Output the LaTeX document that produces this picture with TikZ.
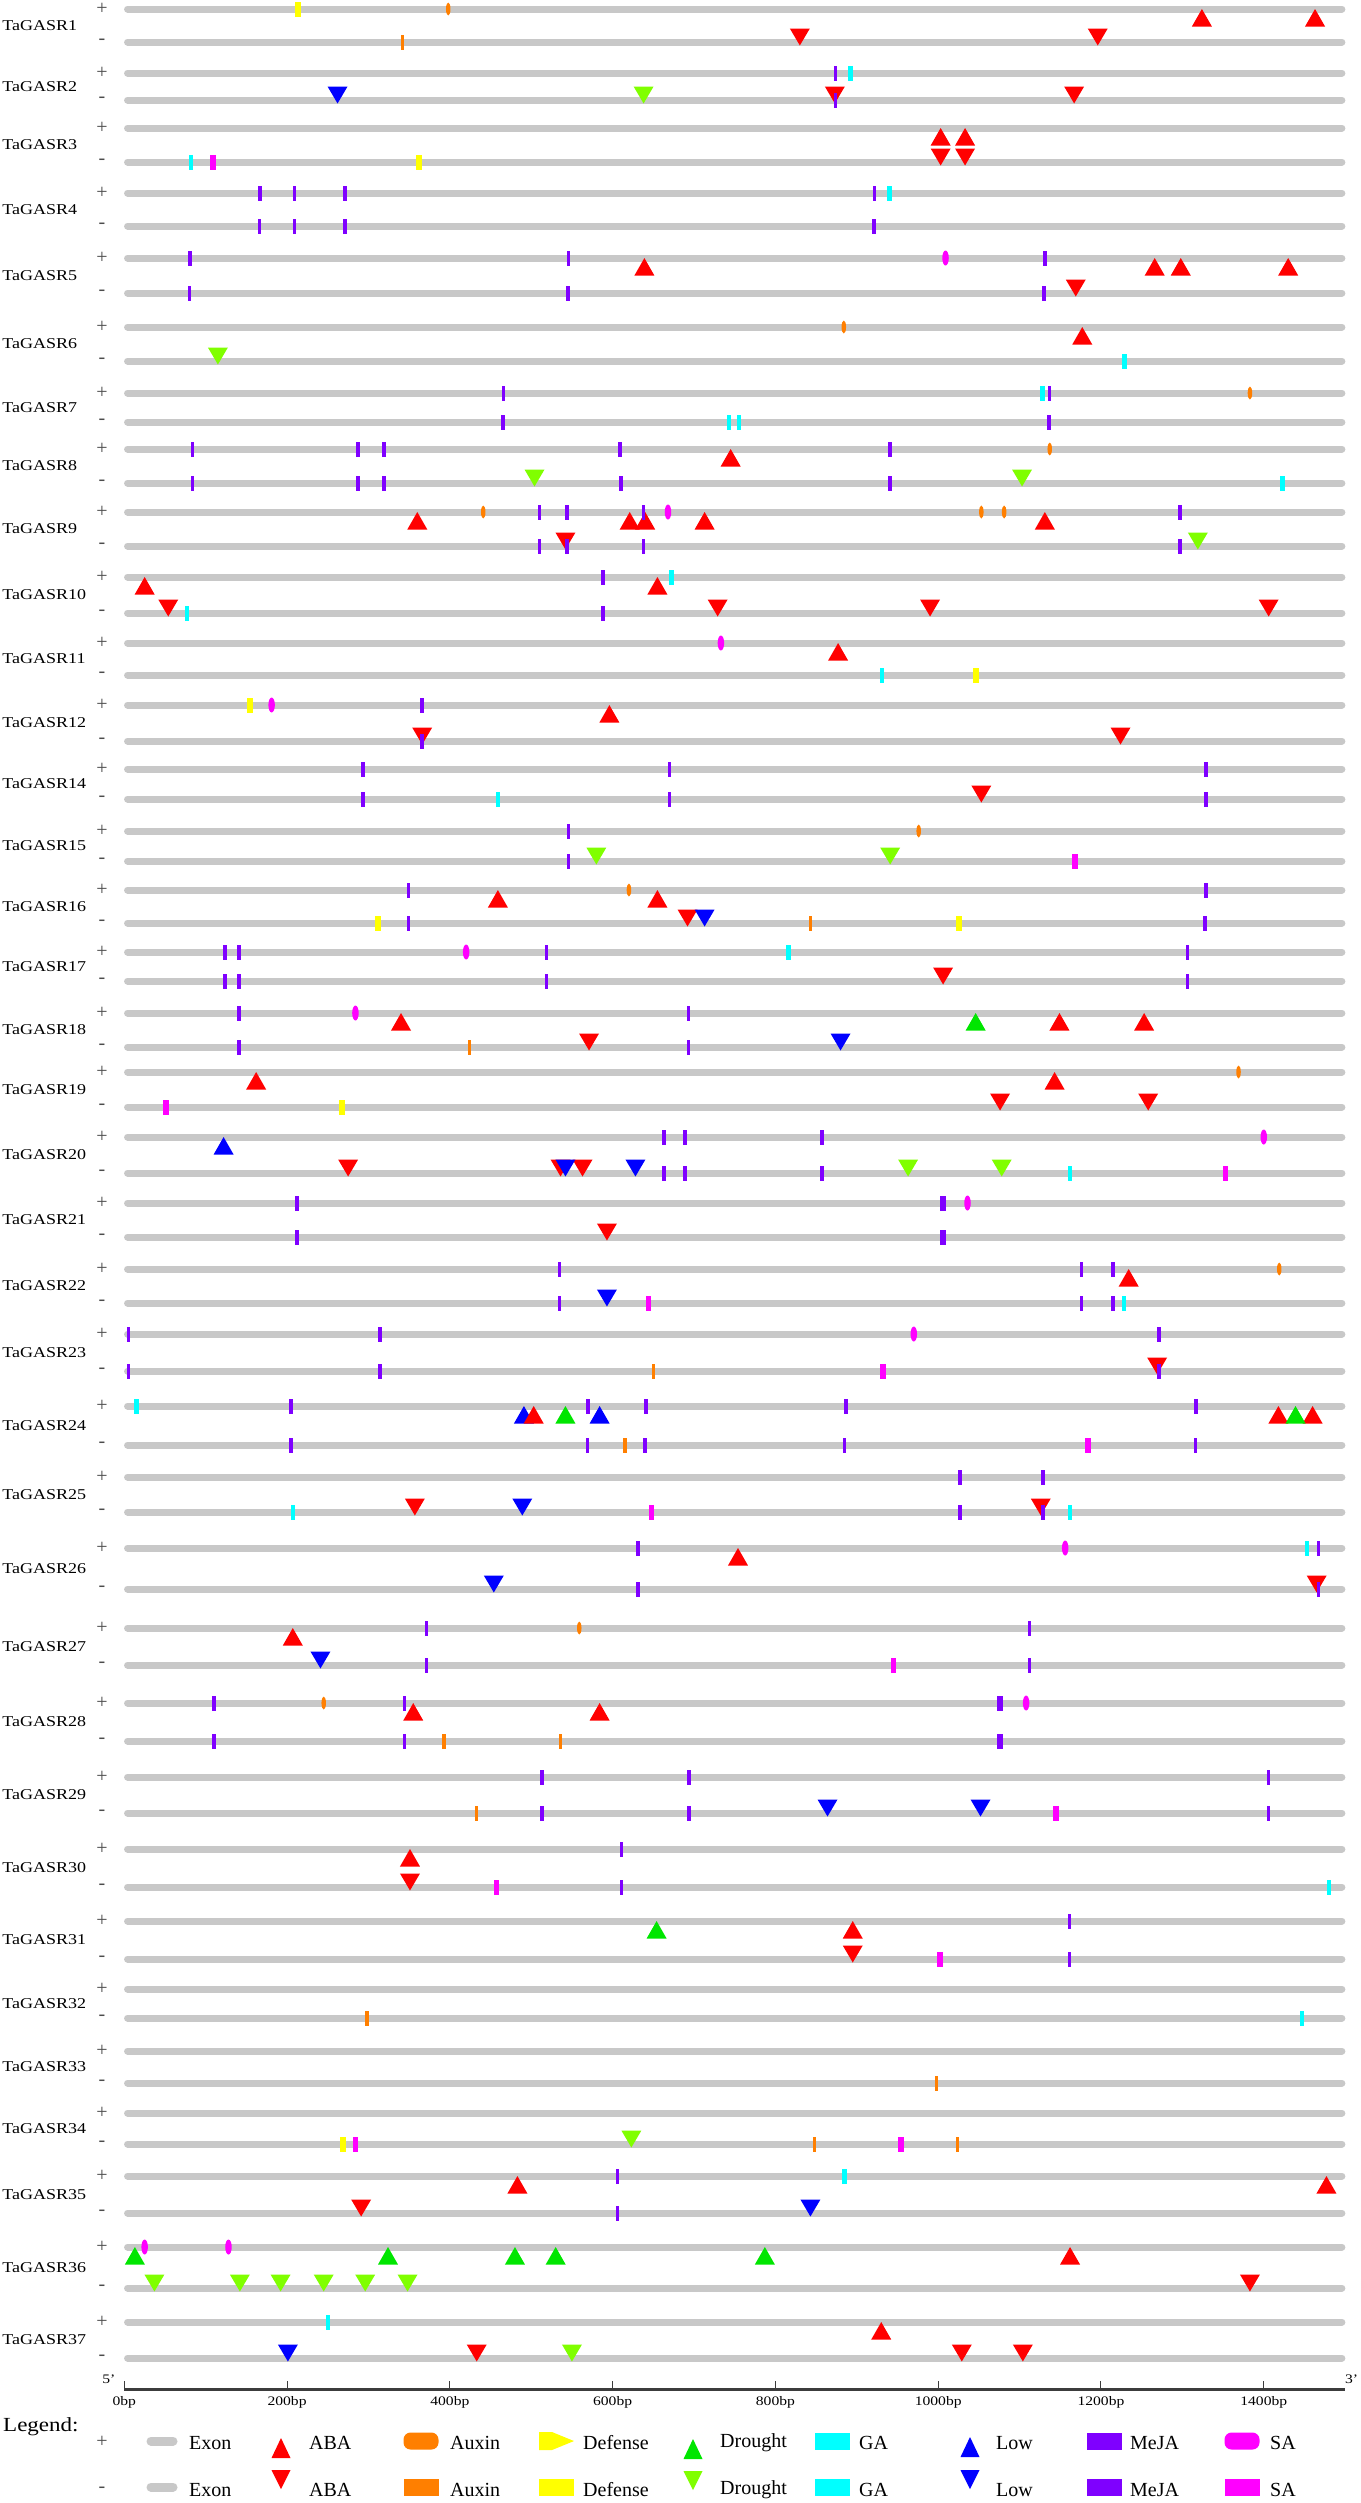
\documentclass[tikz,border=0pt]{standalone}
\usepackage{fontspec}
\setmainfont{Liberation Serif}
\usetikzlibrary{shapes.geometric}
\definecolor{exongray}{RGB}{200,200,200}
\definecolor{abacol}{RGB}{255,0,0}
\definecolor{auxcol}{RGB}{255,127,0}
\definecolor{defcol}{RGB}{255,255,0}
\definecolor{drpcol}{RGB}{0,230,0}
\definecolor{drmcol}{RGB}{128,255,0}
\definecolor{gacol}{RGB}{0,255,255}
\definecolor{lowcol}{RGB}{0,0,255}
\definecolor{mejacol}{RGB}{127,0,255}
\definecolor{sacol}{RGB}{255,0,255}
\definecolor{axiscol}{RGB}{60,60,60}
\tikzstyle{exon} = [line width=7pt, draw=exongray, line cap=round]
\tikzstyle{bar} = [rectangle, inner sep=0pt, minimum height=15pt, minimum width=3.5pt]
\tikzstyle{meja} = [bar, fill=mejacol]
\tikzstyle{mejaw} = [bar, fill=mejacol, minimum width=6pt]
\tikzstyle{ga} = [bar, fill=gacol, minimum width=4.5pt]
\tikzstyle{auxm} = [bar, fill=auxcol]
\tikzstyle{auxp} = [ellipse, inner sep=0pt, minimum width=4.5pt, minimum height=13pt, fill=auxcol]
\tikzstyle{sam} = [bar, fill=sacol, minimum width=5.5pt]
\tikzstyle{sap} = [ellipse, inner sep=0pt, minimum width=6.5pt, minimum height=15pt, fill=sacol]
\tikzstyle{def} = [bar, fill=defcol, minimum width=6pt]
\tikzstyle{genename} = [anchor=west, inner sep=0pt, font=\fontsize{15}{15}\selectfont, xscale=1.2]
\tikzstyle{strand} = [inner sep=0pt, text=black!70, font=\fontsize{20}{20}\selectfont]
\tikzstyle{ticklabel} = [anchor=base, inner sep=0pt, font=\fontsize{13}{13}\selectfont, xscale=1.2]
\tikzstyle{legendtext} = [anchor=west, inner sep=0pt, font=\fontsize{20}{20}\selectfont]
\tikzstyle{legbox} = [rectangle, inner sep=0pt, minimum width=35pt, minimum height=17pt]
\tikzset{
  triup/.pic={\fill (0,0) -- (-10pt,-17.5pt) -- (10pt,-17.5pt) -- cycle;},
  tridown/.pic={\fill (0,-3.5pt) -- (-10pt,13.5pt) -- (10pt,13.5pt) -- cycle;},
  legup/.pic={\fill (0,0) -- (-9.5pt,-20pt) -- (9.5pt,-20pt) -- cycle;},
  legdown/.pic={\fill (0,0) -- (-9.5pt,19pt) -- (9.5pt,19pt) -- cycle;}
}
% one gene: number, y of + strand, y of - strand
\newcommand{\gene}[3]{%
  \node[genename] (g#1) at (-150,{(#2+#3)/2}) {TaGASR#1};
  \node[strand] (g#1p) at (-27.4,#2) {+};
  \node[strand] (g#1m) at (-27.4,#3) {-};
  \draw[exon] (4,#2) -- (1496,#2);
  \draw[exon] (4,#3) -- (1496,#3);
}
\newcommand{\putbar}[3]{\foreach \x in {#3} {\node[#2] at (\x,#1) {};}}
\newcommand{\puttri}[4]{\foreach \x in {#4} {\pic[color=#3] at (\x,#1) {#2};}}
\begin{document}
\begin{tikzpicture}[x=1pt, y=-1pt]
\useasboundingbox (0,0) rectangle (1360,2503);
\begin{scope}[xshift=124.3pt, x=0.8139pt]
% TaGASR1
\gene{1}{9}{42}
\puttri{9}{triup}{abacol}{1324,1463}
\puttri{42}{tridown}{abacol}{830,1196}
\putbar{9}{def}{214}
\putbar{9}{auxp}{398}
\putbar{42}{auxm}{342}
% TaGASR2
\gene{2}{73}{100}
\puttri{100}{tridown}{lowcol}{262}
\puttri{100}{tridown}{drmcol}{638}
\puttri{100}{tridown}{abacol}{873,1167}
\putbar{73}{meja}{874}
\putbar{73}{ga}{892}
\putbar{100}{meja}{874}
% TaGASR3
\gene{3}{128}{162}
\puttri{128}{triup}{abacol}{1003,1033}
\puttri{162}{tridown}{abacol}{1003,1033}
\putbar{162}{ga}{82}
\putbar{162}{sam}{109}
\putbar{162}{def}{362}
% TaGASR4
\gene{4}{193}{226}
\putbar{193}{meja}{167,209,271,922}
\putbar{193}{ga}{940}
\putbar{226}{meja}{166,209,271,921}
% TaGASR5
\gene{5}{258}{293}
\puttri{258}{triup}{abacol}{639,1266,1298,1430}
\puttri{293}{tridown}{abacol}{1169}
\putbar{258}{meja}{81,546,1131}
\putbar{258}{sap}{1009}
\putbar{293}{meja}{80,545,1130}
% TaGASR6
\gene{6}{327}{361}
\puttri{327}{triup}{abacol}{1177}
\puttri{361}{tridown}{drmcol}{115}
\putbar{327}{auxp}{884}
\putbar{361}{ga}{1229}
% TaGASR7
\gene{7}{393}{422}
\putbar{393}{ga}{1128}
\putbar{393}{meja}{466,1137}
\putbar{393}{auxp}{1383}
\putbar{422}{meja}{465,1136}
\putbar{422}{ga}{743,755}
% TaGASR8
\gene{8}{449}{483}
\puttri{449}{triup}{abacol}{745}
\puttri{483}{tridown}{drmcol}{504,1103}
\putbar{449}{meja}{84,287,319,609,941}
\putbar{449}{auxp}{1137}
\putbar{483}{meja}{84,287,319,610,941}
\putbar{483}{ga}{1423}
% TaGASR9
\gene{9}{512}{546}
\puttri{512}{triup}{abacol}{360,621,640,713,1131}
\puttri{546}{tridown}{abacol}{542}
\puttri{546}{tridown}{drmcol}{1319}
\putbar{512}{auxp}{441,1053,1081}
\putbar{512}{meja}{510,544,638,1297}
\putbar{512}{sap}{668}
\putbar{546}{meja}{510,544,638,1297}
% TaGASR10
\gene{10}{577}{613}
\puttri{577}{triup}{abacol}{25,655}
\puttri{613}{tridown}{abacol}{54,729,990,1406}
\putbar{577}{meja}{588}
\putbar{577}{ga}{672}
\putbar{613}{ga}{77}
\putbar{613}{meja}{588}
% TaGASR11
\gene{11}{643}{675}
\puttri{643}{triup}{abacol}{877}
\putbar{643}{sap}{733}
\putbar{675}{ga}{931}
\putbar{675}{def}{1046}
% TaGASR12
\gene{12}{705}{741}
\puttri{705}{triup}{abacol}{596}
\puttri{741}{tridown}{abacol}{366,1224}
\putbar{705}{def}{155}
\putbar{705}{sap}{181}
\putbar{705}{meja}{366}
\putbar{741}{meja}{366}
% TaGASR14
\gene{14}{769}{799}
\puttri{799}{tridown}{abacol}{1053}
\putbar{769}{meja}{293,670,1329}
\putbar{799}{meja}{293,670,1329}
\putbar{799}{ga}{459}
% TaGASR15
\gene{15}{831}{861}
\puttri{861}{tridown}{drmcol}{580,941}
\putbar{831}{meja}{546}
\putbar{831}{auxp}{976}
\putbar{861}{meja}{546}
\putbar{861}{sam}{1168}
% TaGASR16
\gene{16}{890}{923}
\puttri{890}{triup}{abacol}{459,655}
\puttri{923}{tridown}{abacol}{692}
\puttri{923}{tridown}{lowcol}{713}
\putbar{890}{meja}{349,1329}
\putbar{890}{auxp}{620}
\putbar{923}{def}{312,1026}
\putbar{923}{meja}{349,1328}
\putbar{923}{auxm}{843}
% TaGASR17
\gene{17}{952}{981}
\puttri{981}{tridown}{abacol}{1006}
\putbar{952}{meja}{124,141,519,1306}
\putbar{952}{sap}{420}
\putbar{952}{ga}{816}
\putbar{981}{meja}{124,141,519,1306}
% TaGASR18
\gene{18}{1013}{1047}
\puttri{1013}{triup}{abacol}{340,1149,1253}
\puttri{1013}{triup}{drpcol}{1046}
\puttri{1047}{tridown}{abacol}{571}
\puttri{1047}{tridown}{lowcol}{880}
\putbar{1013}{meja}{141,693}
\putbar{1013}{sap}{284}
\putbar{1047}{meja}{141,693}
\putbar{1047}{auxm}{424}
% TaGASR19
\gene{19}{1072}{1107}
\puttri{1072}{triup}{abacol}{162,1143}
\puttri{1107}{tridown}{abacol}{1076,1258}
\putbar{1072}{auxp}{1369}
\putbar{1107}{sam}{51}
\putbar{1107}{def}{268}
% TaGASR20
\gene{20}{1137}{1173}
\puttri{1137}{triup}{lowcol}{122}
\puttri{1173}{tridown}{abacol}{275,536,563}
\puttri{1173}{tridown}{lowcol}{542,628}
\puttri{1173}{tridown}{drmcol}{963,1078}
\putbar{1137}{meja}{663,689,857}
\putbar{1137}{sap}{1400}
\putbar{1173}{meja}{663,689,857}
\putbar{1173}{ga}{1162}
\putbar{1173}{sam}{1353}
% TaGASR21
\gene{21}{1203}{1237}
\puttri{1237}{tridown}{abacol}{593}
\putbar{1203}{meja}{212}
\putbar{1203}{mejaw}{1006}
\putbar{1203}{sap}{1036}
\putbar{1237}{meja}{212}
\putbar{1237}{mejaw}{1006}
% TaGASR22
\gene{22}{1269}{1303}
\puttri{1269}{triup}{abacol}{1234}
\puttri{1303}{tridown}{lowcol}{593}
\putbar{1269}{meja}{535,1176,1215}
\putbar{1269}{auxp}{1419}
\putbar{1303}{meja}{535,1176,1215}
\putbar{1303}{sam}{644}
\putbar{1303}{ga}{1228}
% TaGASR23
\gene{23}{1334}{1371}
\puttri{1371}{tridown}{abacol}{1269}
\putbar{1334}{meja}{5,314,1271}
\putbar{1334}{sap}{970}
\putbar{1371}{meja}{5,314,1271}
\putbar{1371}{auxm}{650}
\putbar{1371}{sam}{932}
% TaGASR24
\gene{24}{1406}{1445}
\puttri{1406}{triup}{lowcol}{491,584}
\puttri{1406}{triup}{abacol}{503,1418,1460}
\puttri{1406}{triup}{drpcol}{542,1439}
\putbar{1406}{ga}{15}
\putbar{1406}{meja}{205,570,641,887,1317}
\putbar{1445}{meja}{205,569,640,885,1316}
\putbar{1445}{auxm}{615}
\putbar{1445}{sam}{1184}
% TaGASR25
\gene{25}{1477}{1512}
\puttri{1512}{tridown}{abacol}{357,1126}
\puttri{1512}{tridown}{lowcol}{489}
\putbar{1477}{meja}{1027,1129}
\putbar{1512}{ga}{207,1162}
\putbar{1512}{sam}{648}
\putbar{1512}{meja}{1027,1129}
% TaGASR26
\gene{26}{1548}{1589}
\puttri{1548}{triup}{abacol}{754}
\puttri{1589}{tridown}{lowcol}{454}
\puttri{1589}{tridown}{abacol}{1465}
\putbar{1548}{meja}{631,1467}
\putbar{1548}{sap}{1156}
\putbar{1548}{ga}{1453}
\putbar{1589}{meja}{631,1467}
% TaGASR27
\gene{27}{1628}{1665}
\puttri{1628}{triup}{abacol}{207}
\puttri{1665}{tridown}{lowcol}{241}
\putbar{1628}{meja}{371,1112}
\putbar{1628}{auxp}{559}
\putbar{1665}{meja}{371,1112}
\putbar{1665}{sam}{945}
% TaGASR28
\gene{28}{1703}{1741}
\puttri{1703}{triup}{abacol}{355,584}
\putbar{1703}{meja}{110,344}
\putbar{1703}{auxp}{245}
\putbar{1703}{mejaw}{1076}
\putbar{1703}{sap}{1108}
\putbar{1741}{meja}{110,344}
\putbar{1741}{auxm}{393,536}
\putbar{1741}{mejaw}{1076}
% TaGASR29
\gene{29}{1777}{1813}
\puttri{1813}{tridown}{lowcol}{864,1052}
\putbar{1777}{meja}{513,694,1406}
\putbar{1813}{auxm}{433}
\putbar{1813}{meja}{513,694,1406}
\putbar{1813}{sam}{1145}
% TaGASR30
\gene{30}{1849}{1887}
\puttri{1849}{triup}{abacol}{351}
\puttri{1887}{tridown}{abacol}{351}
\putbar{1849}{meja}{611}
\putbar{1887}{sam}{457}
\putbar{1887}{meja}{611}
\putbar{1887}{ga}{1480}
% TaGASR31
\gene{31}{1921}{1959}
\puttri{1921}{triup}{drpcol}{654}
\puttri{1921}{triup}{abacol}{895}
\puttri{1959}{tridown}{abacol}{895}
\putbar{1921}{meja}{1161}
\putbar{1959}{sam}{1002}
\putbar{1959}{meja}{1161}
% TaGASR32
\gene{32}{1989}{2018}
\putbar{2018}{auxm}{298}
\putbar{2018}{ga}{1447}
% TaGASR33
\gene{33}{2051}{2083}
\putbar{2083}{auxm}{998}
% TaGASR34
\gene{34}{2113}{2144}
\puttri{2144}{tridown}{drmcol}{623}
\putbar{2144}{def}{269}
\putbar{2144}{sam}{284,954}
\putbar{2144}{auxm}{848,1024}
% TaGASR35
\gene{35}{2176}{2213}
\puttri{2176}{triup}{abacol}{483,1477}
\puttri{2213}{tridown}{abacol}{291}
\puttri{2213}{tridown}{lowcol}{843}
\putbar{2176}{meja}{606}
\putbar{2176}{ga}{885}
\putbar{2213}{meja}{606}
% TaGASR36
\gene{36}{2247}{2288}
\puttri{2247}{triup}{drpcol}{13,324,480,530,787}
\puttri{2247}{triup}{abacol}{1162}
\puttri{2288}{tridown}{drmcol}{37,142,192,245,296,348}
\puttri{2288}{tridown}{abacol}{1383}
\putbar{2247}{sap}{25,128}
% TaGASR37
\gene{37}{2322}{2358}
\puttri{2322}{triup}{abacol}{930}
\puttri{2358}{tridown}{lowcol}{201}
\puttri{2358}{tridown}{abacol}{433,1029,1104}
\puttri{2358}{tridown}{drmcol}{550}
\putbar{2322}{ga}{250}
% axis
\draw[axiscol, line width=3pt] (0,2389) -- (1500,2389);
\foreach \t in {0,200,...,1400} {
  \draw[axiscol, line width=1pt] (\t,2389) -- (\t,2381);
  \node[ticklabel] at (\t,2405) {\t bp};
}
\node[ticklabel] (five) at (-19,2383) {5'};
\node[ticklabel] (three) at (1508,2383) {3'};
\end{scope}
% legend
\node[legendtext, xscale=1.15] (legend) at (3,2427) {Legend:};
\node[strand] (lp) at (102,2442) {+};
\node[strand] (lm) at (102,2490) {-};
\draw[exongray, line width=9pt, line cap=round] (151,2441) -- (173,2441);
\draw[exongray, line width=9pt, line cap=round] (151,2487) -- (173,2487);
\pic[color=abacol] at (281,2438) {legup};
\pic[color=abacol] at (281,2489) {legdown};
\pic[color=drpcol] at (693,2439) {legup};
\pic[color=drmcol] at (693,2490) {legdown};
\pic[color=lowcol] at (970,2437) {legup};
\pic[color=lowcol] at (970,2489) {legdown};
\node[legbox, fill=auxcol, rounded corners=7pt] (auxp) at (421,2441) {};
\node[legbox, fill=auxcol] (auxm) at (421,2487) {};
\fill[defcol] (539,2432) -- (552,2432) -- (574,2441) -- (552,2450) -- (539,2450) -- cycle;
\node[legbox, fill=defcol] (defm) at (556.5,2487) {};
\node[legbox, fill=gacol] (gap) at (832.5,2441) {};
\node[legbox, fill=gacol] (gam) at (832.5,2487) {};
\node[legbox, fill=mejacol] (mejap) at (1104.5,2441) {};
\node[legbox, fill=mejacol] (mejam) at (1104.5,2487) {};
\node[legbox, fill=sacol, rounded corners=7pt] (sap) at (1242,2441) {};
\node[legbox, fill=sacol] (sam) at (1242,2487) {};
\foreach \lx/\txt in {189/Exon, 309/ABA, 450/Auxin, 583/Defense, 720/Drought, 859/GA, 996/Low, 1130/MeJA, 1270/SA} {
  \node[legendtext] at (\lx,2443) {\txt};
  \node[legendtext] at (\lx,2490) {\txt};
}
\end{tikzpicture}
\end{document}
